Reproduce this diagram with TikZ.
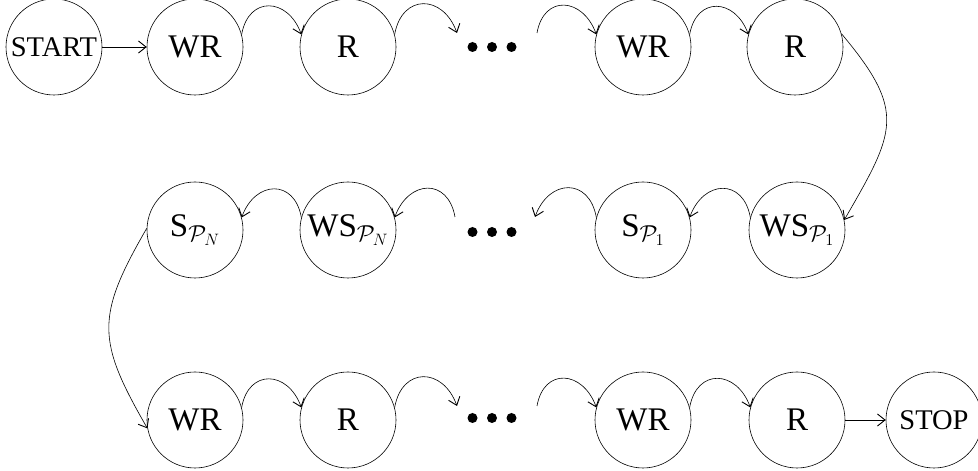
\RequirePackage{fix-cm}
\documentclass[tikz,border=0pt]{standalone}
\usepackage{amsmath, amssymb}
\usepackage{fontspec}
\setmainfont{Liberation Serif}
\usepackage{tikz}
\usetikzlibrary{arrows.meta}

\tikzset{
  st/.style={draw, circle, line width=0.6pt, minimum size=96pt, inner sep=0pt,
    font=\fontsize{33}{38}\selectfont},
  endst/.style={st, font=\fontsize{28.5}{32}\selectfont},
  go/.style={line width=0.6pt, -{Straight Barb[length=7.5pt,width=12pt,line width=0.9pt]}},
  hop/.style={go, out=80, in=110, looseness=1.7},
  back/.style={go, out=100, in=70, looseness=1.7},
}
\newcommand{\threedots}[1]{\foreach \k in {-1,0,1} \fill ([xshift=\k*19.5pt]#1) circle (5pt);}

\begin{document}
\begin{tikzpicture}[x=1pt,y=1pt]
\useasboundingbox (0,0) rectangle (978,471);
%row 1
\node[endst] (start) at (54,424) {START};
\node[st] (wrA) at (195,424) {WR};
\node[st] (rA) at (348,424) {R};
\coordinate (dotsA) at (492,424);
\node[st] (wrB) at (643,424) {WR};
\node[st] (rB) at (795,424) {R};
%row 2
\node[st] (spN) at (195,241) {S$_{\mathcal{P}_N}$};
\node[st] (wspN) at (348,241) {WS$_{\mathcal{P}_N}$};
\coordinate (dotsB) at (492,239);
\node[st] (spO) at (643,241) {S$_{\mathcal{P}_1}$};
\node[st] (wspO) at (797,241) {WS$_{\mathcal{P}_1}$};
%row 3
\node[st] (wrC) at (195,51) {WR};
\node[st] (rC) at (348,51) {R};
\coordinate (dotsC) at (492,53);
\node[st] (wrD) at (643,51) {WR};
\node[st] (rD) at (797,51) {R};
\node[endst] (stop) at (934,51) {STOP};
%dots
\threedots{dotsA}
\threedots{dotsB}
\threedots{dotsC}
%free ends
\coordinate (aL) at (457,438);
\coordinate (aR) at (537,438);
\coordinate (bL) at (455,254);
\coordinate (bR) at (535,254);
\coordinate (cL) at (457,65);
\coordinate (cR) at (537,65);
%arrows
\draw[go] (start) -- (wrA);
\draw[hop] (wrA.15) to (rA.165);
\draw[hop] (rA.15) to (aL);
\draw[hop] (aR) to (wrB.165);
\draw[hop] (wrB.15) to (rB.165);
\draw[go] (rB.16) to[out=-50, in=60, looseness=1.4] (wspO.12);
\draw[back] (wspO.165) to (spO.15);
\draw[back] (spO.165) to (bR);
\draw[back] (bL) to (wspN.15);
\draw[back] (wspN.165) to (spN.15);
\draw[go] (spN.178) to[out=-120, in=120, looseness=1.3] (wrC.190);
\draw[hop] (wrC.15) to (rC.165);
\draw[hop] (rC.15) to (cL);
\draw[hop] (cR) to (wrD.165);
\draw[hop] (wrD.15) to (rD.165);
\draw[go] (rD) -- (stop);
\end{tikzpicture}
\end{document}
